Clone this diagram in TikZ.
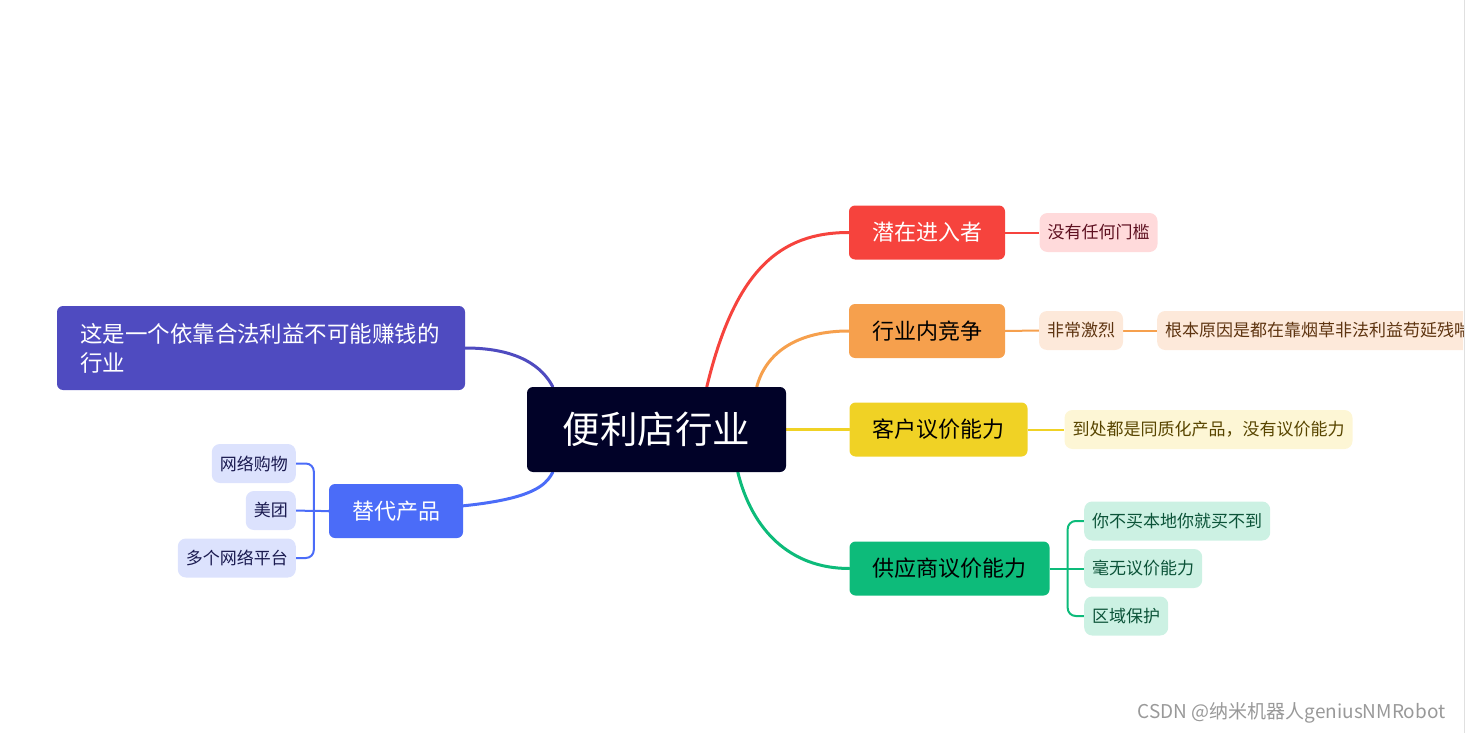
\documentclass[tikz,border=0pt]{standalone}
\usepackage{fontspec}
\setmainfont{Noto Sans CJK SC}
\usetikzlibrary{backgrounds}

\definecolor{corenavy}{HTML}{010228}
\definecolor{redtopic}{HTML}{F6433D}
\definecolor{redleaf}{HTML}{FFDADB}
\definecolor{redtext}{HTML}{5E1020}
\definecolor{orangetopic}{HTML}{F6A04D}
\definecolor{orangeleaf}{HTML}{FDE9DA}
\definecolor{orangetext}{HTML}{5E3410}
\definecolor{yellowtopic}{HTML}{F0D225}
\definecolor{yellowleaf}{HTML}{FDF6D5}
\definecolor{yellowtext}{HTML}{584500}
\definecolor{greentopic}{HTML}{0DBB7A}
\definecolor{greenleaf}{HTML}{CCF1E3}
\definecolor{greentext}{HTML}{0B5338}
\definecolor{purpletopic}{HTML}{4F4BC0}
\definecolor{bluetopic}{HTML}{4B6CF8}
\definecolor{blueleaf}{HTML}{DCE2FD}
\definecolor{bluetext}{HTML}{1A1A50}

\tikzset{
  topic/.style={rounded corners=6, minimum height=54, inner xsep=23, inner ysep=0,
    font=\fontsize{22}{26}\selectfont},
  leaf/.style={rounded corners=8, minimum height=39, inner xsep=8, inner ysep=0,
    font=\fontsize{17}{20}\selectfont},
  bough/.style={line width=3, line cap=round},
  twig/.style={line width=2, rounded corners=8}
}

\begin{document}
\begin{tikzpicture}[x=1pt,y=-1pt]

  \useasboundingbox (0,0) rectangle (1465,733);
  \draw[black!12, line width=1] (1464,0) -- (1464,733);
  \clip (0,0) rectangle (1463,733);

  % centre
  \node[topic, fill=corenavy, text=white, minimum width=259, minimum height=85,
    inner xsep=0, font=\fontsize{37.5}{42}\selectfont] (core) at (656.5,429.5) {便利店行业};

  % right side
  \node[topic, fill=redtopic, text=white] (entrant) at (927,232.5) {潜在进入者};
  \node[leaf, fill=redleaf, text=redtext] (nobar) at (1098.5,232.5) {没有任何门槛};

  \node[topic, fill=orangetopic, text=black] (rivalry) at (927,331) {行业内竞争};
  \node[leaf, fill=orangeleaf, text=orangetext] (fierce) at (1081,330.5) {非常激烈};
  \node[leaf, fill=orangeleaf, text=orangetext, anchor=west] (reason) at (1157,330.5)
    {根本原因是都在靠烟草非法利益苟延残喘};

  \node[topic, fill=yellowtopic, text=black] (buyer) at (938.5,429.5) {客户议价能力};
  \node[leaf, fill=yellowleaf, text=yellowtext] (homog) at (1208.5,429.5)
    {到处都是同质化产品，没有议价能力};

  \node[topic, fill=greentopic, text=black] (supplier) at (949.5,568.5) {供应商议价能力};
  \node[leaf, fill=greenleaf, text=greentext, anchor=west] (nolocal) at (1084,521) {你不买本地你就买不到};
  \node[leaf, fill=greenleaf, text=greentext, anchor=west] (nopower) at (1084,568.5) {毫无议价能力};
  \node[leaf, fill=greenleaf, text=greentext, anchor=west] (region) at (1084,616) {区域保护};

  % left side
  \node[topic, fill=purpletopic, text=white, minimum width=404, minimum height=84,
    text width=362, align=left, font=\fontsize{22.5}{29}\selectfont] (thesis) at (261,348)
    {\raisebox{-3pt}{这是一个依靠合法利益不可能赚钱的}\\\raisebox{-3pt}{行业}};

  \node[topic, fill=bluetopic, text=white] (subst) at (396,511) {替代产品};
  \node[leaf, fill=blueleaf, text=bluetext, anchor=east] (online) at (296,463.5) {网络购物};
  \node[leaf, fill=blueleaf, text=bluetext, anchor=east] (meituan) at (296,510.5) {美团};
  \node[leaf, fill=blueleaf, text=bluetext, anchor=east] (platforms) at (296,558) {多个网络平台};

  \coordinate (gfork) at ([xshift=18]supplier.east);
  \coordinate (bfork) at ([xshift=-15]subst.west);

  \begin{scope}[on background layer]
    % curves from the centre
    \draw[bough, redtopic] ([xshift=180]core.north west) .. controls (735,270) and (780,232.5) .. (entrant.west);
    \draw[bough, orangetopic] ([xshift=230]core.north west) .. controls (766,352) and (798,331) .. (rivalry.west);
    \draw[bough, yellowtopic] (core.east) -- (buyer.west);
    \draw[bough, greentopic] ([xshift=211]core.south west) .. controls (752,530) and (790,568.5) .. (supplier.west);
    \draw[bough, purpletopic] ([xshift=26]core.north west) .. controls (543,368) and (520,348) .. (thesis.east);
    \draw[bough, bluetopic] ([xshift=26]core.south west) .. controls (543,491) and (520,511) .. (subst.west);

    % leaf links
    \draw[twig, redtopic] (entrant.east) -- (nobar.west);
    \draw[twig, orangetopic] (rivalry.east) -- (fierce.west);
    \draw[twig, orangetopic] (fierce.east) -- (reason.west);
    \draw[twig, yellowtopic] (buyer.east) -- (homog.west);

    \draw[twig, greentopic] (supplier.east) -- (gfork) -- (nopower.west);
    \draw[twig, greentopic] (nolocal.west) -| (gfork) |- (region.west);

    \draw[twig, bluetopic] (subst.west) -- (bfork) -- (meituan.east);
    \draw[twig, bluetopic] (online.east) -| (bfork) |- (platforms.east);
  \end{scope}

  % watermark
  \node[text=black!40, anchor=east, font=\fontsize{19}{22}\selectfont] (mark) at (1449,713)
    {CSDN @纳米机器人geniusNMRobot};

\end{tikzpicture}
\end{document}
